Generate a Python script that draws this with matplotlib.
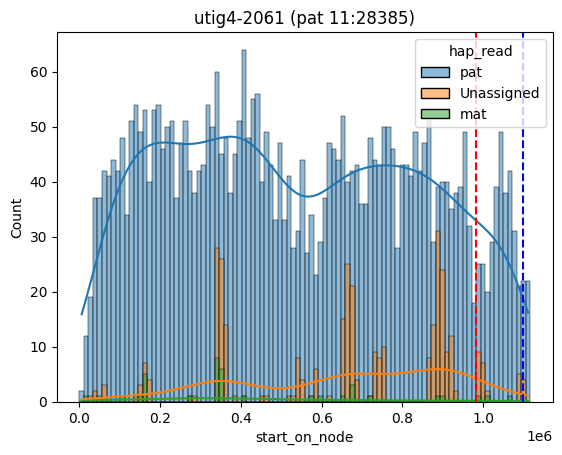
import numpy as np
import pandas as pd
import matplotlib
matplotlib.use("Agg")
import matplotlib.pyplot as plt
import matplotlib.colors as mcolors
import seaborn as sns

# ---- data (counts per bin) ----
x_min = 0.0
x_max = 1.117e6
n_bins = 100

pat = [2, 12, 19, 37, 37, 42, 41, 44, 42, 48,
       34, 51, 54, 49, 53, 40, 53, 54, 46, 50,
       51, 37, 47, 51, 42, 38, 42, 43, 54, 50,
       60, 45, 48, 38, 45, 51, 64, 48, 55, 56,
       40, 49, 43, 33, 47, 33, 41, 28, 31, 44,
       27, 34, 23, 29, 37, 47, 46, 44, 52, 40,
       42, 43, 36, 36, 48, 44, 43, 50, 50, 46,
       28, 43, 43, 41, 49, 42, 47, 51, 29, 39,
       40, 40, 35, 38, 39, 49, 32, 18, 25, 25,
       20, 29, 39, 49, 38, 42, 31, 21, 22, 22]

unassigned = [0, 0, 1, 2, 0, 3, 0, 0, 0, 0,
              0, 0, 1, 3, 7, 4, 0, 0, 0, 0,
              0, 0, 0, 0, 1, 1, 0, 0, 0, 0,
              28, 26, 14, 0, 1, 0, 1, 0, 0, 0,
              1, 1, 0, 0, 0, 0, 1, 1, 8, 4,
              0, 1, 6, 0, 0, 1, 0, 0, 15, 25,
              21, 4, 0, 0, 1, 9, 8, 10, 0, 0,
              0, 0, 0, 0, 0, 0, 0, 8, 14, 31,
              24, 9, 12, 2, 0, 0, 0, 0, 9, 7,
              2, 0, 0, 0, 0, 0, 0, 5, 4, 0]

mat = [0, 1, 0, 0, 1, 0, 0, 0, 0, 1,
       0, 0, 0, 1, 5, 0, 0, 0, 0, 0,
       0, 0, 0, 0, 1, 0, 0, 0, 0, 0,
       8, 6, 0, 0, 0, 0, 1, 0, 0, 0,
       0, 0, 0, 0, 0, 0, 0, 0, 0, 0,
       0, 1, 0, 1, 0, 0, 0, 0, 1, 0,
       3, 0, 0, 0, 1, 0, 0, 0, 0, 0,
       0, 0, 0, 0, 0, 0, 0, 0, 0, 1,
       1, 0, 0, 0, 0, 0, 0, 0, 1, 0,
       1, 0, 0, 0, 0, 1, 0, 0, 0, 0]

hap_levels = ["pat", "Unassigned", "mat"]
red_line = 0.9826e6
blue_line = 1.099e6
title = "utig4-2061 (pat 11:28385)"

# ---- rebuild one row per read (at the centre of its bin) ----
edges = np.linspace(x_min, x_max, n_bins + 1)
centres = (edges[:-1] + edges[1:]) / 2
xs, labels = [], []
for lvl, vals in zip(hap_levels, [pat, unassigned, mat]):
    rep = np.repeat(centres, vals)
    xs.append(rep)
    labels += [lvl] * len(rep)
df = pd.DataFrame({"start_on_node": np.concatenate(xs), "hap_read": labels})

fig, ax = plt.subplots(figsize=(6.4, 4.8), dpi=100)
palette = dict(zip(hap_levels, sns.color_palette(n_colors=3)))
sns.histplot(data=df, x="start_on_node", hue="hap_read",
             hue_order=hap_levels, palette=palette, bins=n_bins,
             binrange=(x_min, x_max), kde=True,
             kde_kws={"bw_adjust": 1.1}, ax=ax)

# stack layers like the reference: pat bottom, Unassigned, then mat on top
z_for = {"pat": 1.0, "Unassigned": 1.2, "mat": 1.4}
for cont in ax.containers:
    if len(cont.patches) == 0:
        continue
    fc = mcolors.to_rgb(cont.patches[0].get_facecolor()[:3])
    for lvl, col in palette.items():
        if np.allclose(fc, mcolors.to_rgb(col), atol=0.02):
            for p in cont.patches:
                p.set_zorder(z_for[lvl])

ax.axvline(red_line, color="red", linestyle="--")
ax.axvline(blue_line, color="blue", linestyle="--")
ax.set_title(title)
sns.move_legend(ax, "upper right")
fig.savefig("out.png", dpi=100, bbox_inches="tight")
